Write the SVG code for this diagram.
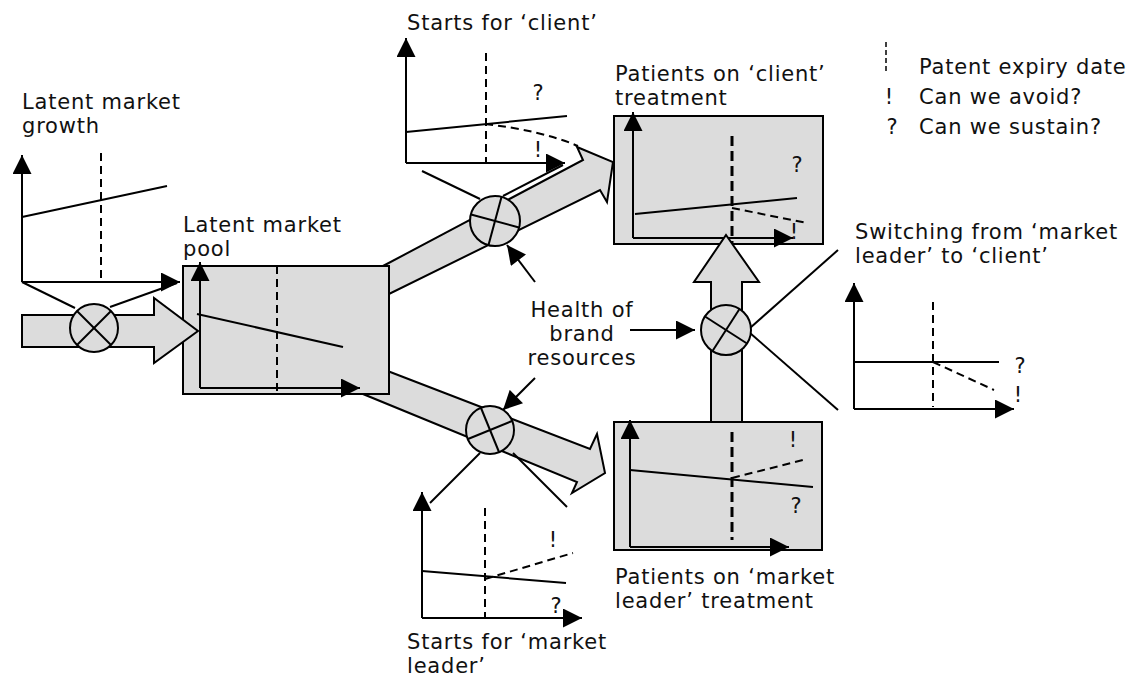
<svg xmlns="http://www.w3.org/2000/svg" width="1141" height="680" viewBox="0 0 1141 680">
<style>
.box{fill:#dcdcdc;stroke:#000;stroke-width:2}
.flow{fill:#dcdcdc;stroke:#000;stroke-width:2;stroke-linejoin:miter}
.valve{fill:#dcdcdc;stroke:#000;stroke-width:2}
.ax{stroke:#000;stroke-width:2;fill:none;marker-end:url(#ah)}
.ln{stroke:#000;stroke-width:2;fill:none}
.dash{stroke:#000;stroke-width:2;stroke-dasharray:8 5;fill:none}
.dashb{stroke:#000;stroke-width:3;stroke-dasharray:10 5;fill:none}
.t{font-family:"DejaVu Sans","Liberation Sans",sans-serif;font-size:21px;letter-spacing:0.8px;fill:#111}
.m{font-family:"DejaVu Sans","Liberation Sans",sans-serif;font-size:21px;fill:#111;text-anchor:middle}
</style>
<defs>
<marker id="ah" viewBox="0 0 20 20" refX="20" refY="10" markerWidth="20" markerHeight="19" markerUnits="userSpaceOnUse" orient="auto"><path d="M0,0 L20,10 L0,20 z" fill="#000"/></marker>
</defs>

<g id="connectors">
  <polygon class="flow" points="383,266 583,160 577,147 613,162 607,202 600,190 389,294"/>
  <polygon class="flow" points="385,370 590,449 597,434 605,473 572,493 577,482 363,394"/>
  <line class="ln" x1="22" y1="282" x2="75" y2="308"/>
  <line class="ln" x1="177" y1="283" x2="110" y2="307"/>
  <line class="ln" x1="422" y1="171" x2="480" y2="199"/>
  <line class="ln" x1="503" y1="196" x2="563" y2="165"/>
  <line class="ln" x1="480" y1="453" x2="430" y2="503"/>
  <line class="ln" x1="513" y1="453" x2="567" y2="507"/>
  <line class="ln" x1="750" y1="328" x2="838" y2="250"/>
  <line class="ln" x1="750" y1="333" x2="838" y2="410"/>
  <line class="ax" x1="535" y1="282" x2="507" y2="245"/>
  <line class="ax" x1="535" y1="378" x2="503" y2="410"/>
  <line class="ax" x1="630" y1="330" x2="695" y2="330"/>
</g>

<g id="latent-market-growth">
  <text class="t" x="22" y="109">Latent market</text>
  <text class="t" x="22" y="133">growth</text>
  <line class="dash" x1="101" y1="153" x2="101" y2="282"/>
  <line class="ln" x1="22" y1="217" x2="167" y2="186"/>
  <line class="ax" x1="22" y1="282" x2="22" y2="155"/>
  <line class="ax" x1="22" y1="282" x2="180" y2="282"/>
</g>

<g id="latent-market-pool">
  <text class="t" x="183" y="232">Latent market</text>
  <text class="t" x="183" y="256">pool</text>
  <rect class="box" x="183" y="266" width="206" height="128"/>
  <line class="dash" x1="277" y1="266" x2="277" y2="394"/>
  <line class="ln" x1="197" y1="314" x2="343" y2="347"/>
  <line class="ax" x1="200" y1="388" x2="200" y2="262"/>
  <line class="ax" x1="200" y1="388" x2="360" y2="388"/>
</g>

<g id="inflow">
  <polygon class="flow" points="22,315 154,315 154,298 198,331 154,363 154,347 22,347"/>
  <circle class="valve" cx="94" cy="328" r="24"/>
  <line class="ln" x1="77" y1="311" x2="111" y2="345"/>
  <line class="ln" x1="111" y1="311" x2="77" y2="345"/>
</g>

<g id="valve-client">
  <circle class="valve" cx="495" cy="221" r="25"/>
  <line class="ln" x1="471" y1="214.5" x2="519" y2="227.5"/>
  <line class="ln" x1="488.5" y1="245" x2="501.5" y2="197"/>
</g>

<g id="valve-market-leader">
  <circle class="valve" cx="490" cy="430" r="24"/>
  <line class="ln" x1="468" y1="439" x2="512" y2="421"/>
  <line class="ln" x1="481" y1="408" x2="499" y2="452"/>
</g>

<g id="starts-client">
  <text class="t" x="407" y="30">Starts for ‘client’</text>
  <line class="dash" x1="486" y1="53" x2="486" y2="163"/>
  <line class="ln" x1="406" y1="132" x2="567" y2="116"/>
  <path class="dash" d="M485,124 C520,128 552,135 578,146"/>
  <text class="m" x="538" y="100">?</text>
  <text class="m" x="538" y="157">!</text>
  <line class="ax" x1="406" y1="163" x2="406" y2="38"/>
  <line class="ax" x1="406" y1="163" x2="565" y2="163"/>
</g>

<g id="patients-client">
  <text class="t" x="615" y="81">Patients on ‘client’</text>
  <text class="t" x="615" y="105">treatment</text>
  <rect class="box" x="614" y="116" width="209" height="128"/>
  <line class="dashb" x1="732" y1="136" x2="732" y2="244"/>
  <line class="ln" x1="635" y1="214" x2="797" y2="198"/>
  <line class="dash" x1="732" y1="208" x2="807" y2="223"/>
  <text class="m" x="797" y="172">?</text>
  <text class="m" x="794" y="239">!</text>
  <line class="ax" x1="633" y1="238" x2="633" y2="112"/>
  <line class="ax" x1="633" y1="238" x2="793" y2="238"/>
</g>

<g id="patients-market-leader">
  <rect class="box" x="614" y="422" width="208" height="128"/>
  <line class="dashb" x1="732" y1="432" x2="732" y2="540"/>
  <line class="ln" x1="630" y1="470" x2="813" y2="487"/>
  <line class="dash" x1="732" y1="478" x2="807" y2="459"/>
  <text class="m" x="793" y="447">!</text>
  <text class="m" x="796" y="513">?</text>
  <line class="ax" x1="630" y1="547" x2="630" y2="420"/>
  <line class="ax" x1="630" y1="547" x2="789" y2="547"/>
  <text class="t" x="615" y="584">Patients on ‘market</text>
  <text class="t" x="615" y="608">leader’ treatment</text>
</g>

<g id="switching-flow">
  <polygon class="flow" points="711,422 711,282 694,282 726,235 759,282 742,282 742,422"/>
  <circle class="valve" cx="726" cy="330" r="25"/>
  <line class="ln" x1="705" y1="316.5" x2="747" y2="343.5"/>
  <line class="ln" x1="712.5" y1="351" x2="739.5" y2="309"/>
</g>

<g id="health-label">
  <text class="t" x="582" y="317" text-anchor="middle">Health of</text>
  <text class="t" x="582" y="341" text-anchor="middle">brand</text>
  <text class="t" x="582" y="365" text-anchor="middle">resources</text>
</g>

<g id="switching-chart">
  <text class="t" x="855" y="239">Switching from ‘market</text>
  <text class="t" x="855" y="263">leader’ to ‘client’</text>
  <line class="dash" x1="933" y1="302" x2="933" y2="407"/>
  <line class="ln" x1="854" y1="362" x2="999" y2="362"/>
  <line class="dash" x1="933" y1="362" x2="994" y2="390"/>
  <text class="m" x="1020" y="373">?</text>
  <text class="m" x="1018" y="402">!</text>
  <line class="ax" x1="854" y1="409" x2="854" y2="283"/>
  <line class="ax" x1="854" y1="409" x2="1014" y2="409"/>
</g>

<g id="starts-market-leader">
  <line class="dash" x1="485" y1="508" x2="485" y2="618"/>
  <line class="ln" x1="422" y1="571" x2="566" y2="583"/>
  <line class="dash" x1="485" y1="579" x2="573" y2="553"/>
  <text class="m" x="553" y="547">!</text>
  <text class="m" x="556" y="613">?</text>
  <line class="ax" x1="422" y1="618" x2="422" y2="492"/>
  <line class="ax" x1="422" y1="618" x2="582" y2="618"/>
  <text class="t" x="407" y="649">Starts for ‘market</text>
  <text class="t" x="407" y="673">leader’</text>
</g>

<g id="legend">
  <line x1="886" y1="42" x2="886" y2="73" stroke="#000" stroke-width="1.5" stroke-dasharray="5 3"/>
  <text class="t" x="919" y="74">Patent expiry date</text>
  <text class="m" x="889" y="104">!</text>
  <text class="t" x="919" y="104">Can we avoid?</text>
  <text class="m" x="892" y="134">?</text>
  <text class="t" x="919" y="134">Can we sustain?</text>
</g>
</svg>
